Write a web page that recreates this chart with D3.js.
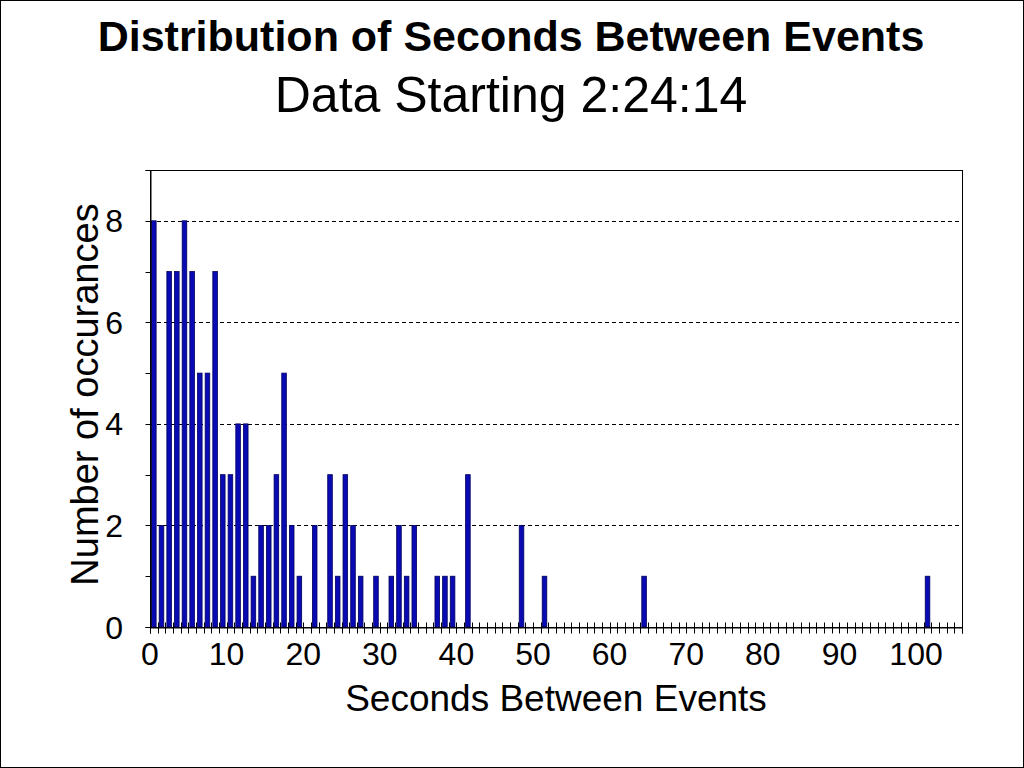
<!DOCTYPE html>
<html>
<head>
<meta charset="utf-8">
<script src="https://cdn.jsdelivr.net/npm/d3@7"></script>
<style>
  html, body { margin: 0; padding: 0; background: #fff; }
  svg { display: block; }
  text { font-family: "Liberation Sans", Arial, sans-serif; fill: #000; }
</style>
</head>
<body>
<svg id="chart" width="1024" height="768"></svg>
<script>
// ---- data ----
const titleText = "Distribution of Seconds Between Events";
const subtitleText = "Data Starting 2:24:14";
const xTitle = "Seconds Between Events";
const yTitle = "Number of occurances";

// seconds between events (one bin per second, 0..105)
const seconds = [
  0,1,2,3,4,5,6,7,8,9,10,11,12,13,14,15,16,17,18,19,
  20,21,22,23,24,25,26,27,28,29,30,31,32,33,34,35,36,37,38,39,
  40,41,42,43,44,45,46,47,48,49,50,51,52,53,54,55,56,57,58,59,
  60,61,62,63,64,65,66,67,68,69,70,71,72,73,74,75,76,77,78,79,
  80,81,82,83,84,85,86,87,88,89,90,91,92,93,94,95,96,97,98,99,
  100,101,102,103,104,105
];
// number of occurrences per bin
const counts = [
  8,2,7,7,8,7,5,5,7,3,3,4,4,1,2,2,3,5,2,1,
  0,2,0,3,1,3,2,1,0,1,0,1,2,1,2,0,0,1,1,1,
  0,3,0,0,0,0,0,0,2,0,0,1,0,0,0,0,0,0,0,0,
  0,0,0,0,1,0,0,0,0,0,0,0,0,0,0,0,0,0,0,0,
  0,0,0,0,0,0,0,0,0,0,0,0,0,0,0,0,0,0,0,0,
  0,1,0,0,0,0
];
const xTickLabels = ["0","10","20","30","40","50","60","70","80","90","100"];
const yTickLabels = ["0","2","4","6","8"];
const yMax = 9;

// ---- layout ----
const W = 1024, H = 768;
const plot = { left: 150, top: 170, right: 962, bottom: 627 };

const svg = d3.select("#chart");
svg.append("rect").attr("x", 0).attr("y", 0).attr("width", W).attr("height", H).attr("fill", "#fff");
svg.append("rect").attr("x", 0.5).attr("y", 0.5).attr("width", W - 1).attr("height", H - 1)
  .attr("fill", "none").attr("stroke", "#000").attr("stroke-width", 1);

// scales
const xBand = d3.scaleBand().domain(seconds).range([plot.left, plot.right])
  .paddingInner(0.4).paddingOuter(0.2);
const xLin = d3.scaleLinear().domain([0, seconds.length]).range([plot.left, plot.right]);
const y = d3.scaleLinear().domain([0, yMax]).range([plot.bottom, plot.top]);

// plot area frame
svg.append("rect").attr("x", plot.left + 0.5).attr("y", plot.top + 0.5)
  .attr("width", plot.right - plot.left).attr("height", plot.bottom - plot.top)
  .attr("fill", "#fff").attr("stroke", "#000").attr("stroke-width", 1);

// gridlines
svg.append("g").selectAll("line").data(yTickLabels.map(Number).filter(v => v > 0)).join("line")
  .attr("x1", plot.left).attr("x2", plot.right)
  .attr("y1", d => Math.round(y(d)) + 0.5).attr("y2", d => Math.round(y(d)) + 0.5)
  .attr("stroke", "#000").attr("stroke-width", 1).attr("stroke-dasharray", "4,3");

// bars
svg.append("g").selectAll("rect").data(seconds.map((s, i) => ({ s, c: counts[i] })).filter(d => d.c > 0))
  .join("rect")
  .attr("x", d => xBand(d.s))
  .attr("width", xBand.bandwidth())
  .attr("y", d => y(d.c))
  .attr("height", d => y(0) - y(d.c))
  .attr("fill", "#0a0ab4").attr("stroke", "#00005a").attr("stroke-width", 0.8);

// x axis: ticks at every bin boundary, crossing the axis
const xAxis = d3.axisBottom(xLin)
  .tickValues(d3.range(0, seconds.length + 1))
  .tickSize(6).tickFormat("");
const gx = svg.append("g").attr("transform", `translate(0,${plot.bottom + 0.5})`).call(xAxis);
gx.select(".domain").attr("stroke", "#000").attr("stroke-width", 1);
gx.selectAll(".tick line").attr("y1", -5).attr("y2", 6).attr("stroke", "#000");
gx.selectAll(".tick").attr("transform", d => `translate(${Math.round(xLin(d)) + 0.5},0)`);

svg.append("g").selectAll("text").data(xTickLabels).join("text")
  .attr("x", d => xLin(+d))
  .attr("y", 665)
  .attr("text-anchor", "middle")
  .style("font-size", "32px")
  .text(d => d);

// y axis
const yAxis = d3.axisLeft(y).tickValues(d3.range(0, yMax + 1)).tickSize(5).tickFormat("");
const gy = svg.append("g").attr("transform", `translate(${plot.left + 0.5},0)`).call(yAxis);
gy.select(".domain").attr("stroke", "#000");
gy.selectAll(".tick line").attr("stroke", "#000");
gy.selectAll(".tick").attr("transform", d => `translate(0,${Math.round(y(d)) + 0.5})`);

svg.append("g").selectAll("text").data(yTickLabels).join("text")
  .attr("x", 123)
  .attr("y", d => y(+d))
  .attr("dy", "0.36em")
  .attr("text-anchor", "end")
  .style("font-size", "32px")
  .text(d => d);

// titles
svg.append("text").attr("x", 511).attr("y", 51).attr("text-anchor", "middle")
  .style("font-size", "43px").style("font-weight", "bold").text(titleText);
svg.append("text").attr("x", 511).attr("y", 112).attr("text-anchor", "middle")
  .style("font-size", "50px").text(subtitleText);
svg.append("text").attr("x", (plot.left + plot.right) / 2).attr("y", 711).attr("text-anchor", "middle")
  .style("font-size", "37px").text(xTitle);
svg.append("text").attr("transform", `translate(98,${(plot.top + plot.bottom) / 2 - 4}) rotate(-90)`)
  .attr("text-anchor", "middle").style("font-size", "38px").text(yTitle);
</script>
</body>
</html>
